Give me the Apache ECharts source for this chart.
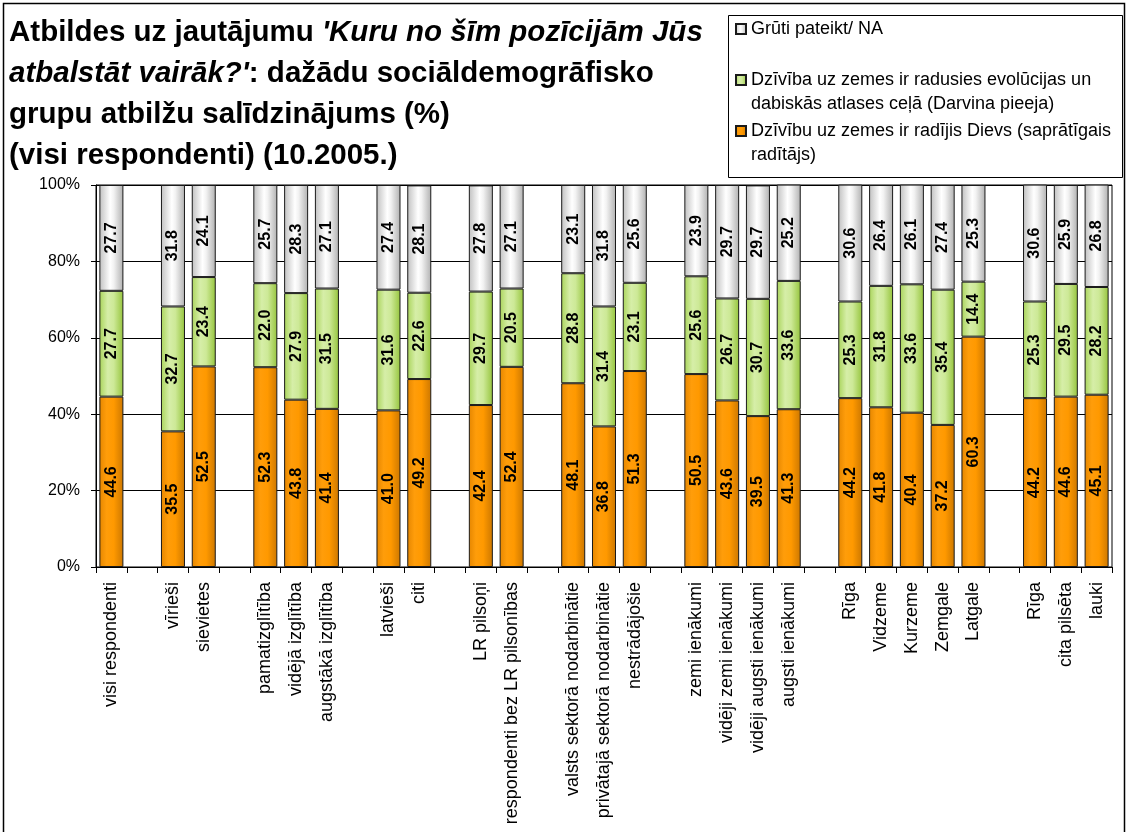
<!DOCTYPE html>
<html>
<head>
<meta charset="utf-8">
<script src="https://cdn.jsdelivr.net/npm/echarts@6/dist/echarts.min.js"></script>
<style>
  html, body { margin: 0; padding: 0; background: #fff; }
  #chart { width: 1127px; height: 832px; }
</style>
</head>
<body>
<div id="chart"></div>
<script>
// ---- data ----
const categories = [
  'visi respondenti', '',
  'vīrieši', 'sievietes', '',
  'pamatizglītība', 'vidējā izglītība', 'augstākā izglītība', '',
  'latvieši', 'citi', '',
  'LR pilsoņi', 'respondenti bez LR pilsonības', '',
  'valsts sektorā nodarbinātie', 'privātajā sektorā nodarbinātie', 'nestrādājošie', '',
  'zemi ienākumi', 'vidēji zemi ienākumi', 'vidēji augsti ienākumi', 'augsti ienākumi', '',
  'Rīga', 'Vidzeme', 'Kurzeme', 'Zemgale', 'Latgale', '',
  'Rīga', 'cita pilsēta', 'lauki'
];
const godValues = [
  44.6, null,
  35.5, 52.5, null,
  52.3, 43.8, 41.4, null,
  41.0, 49.2, null,
  42.4, 52.4, null,
  48.1, 36.8, 51.3, null,
  50.5, 43.6, 39.5, 41.3, null,
  44.2, 41.8, 40.4, 37.2, 60.3, null,
  44.2, 44.6, 45.1
];
const darwinValues = [
  27.7, null,
  32.7, 23.4, null,
  22.0, 27.9, 31.5, null,
  31.6, 22.6, null,
  29.7, 20.5, null,
  28.8, 31.4, 23.1, null,
  25.6, 26.7, 30.7, 33.6, null,
  25.3, 31.8, 33.6, 35.4, 14.4, null,
  25.3, 29.5, 28.2
];
const naValues = [
  27.7, null,
  31.8, 24.1, null,
  25.7, 28.3, 27.1, null,
  27.4, 28.1, null,
  27.8, 27.1, null,
  23.1, 31.8, 25.6, null,
  23.9, 29.7, 29.7, 25.2, null,
  30.6, 26.4, 26.1, 27.4, 25.3, null,
  30.6, 25.9, 26.8
];
const yTicks = [0, 20, 40, 60, 80, 100];
const seriesNames = {
  na: 'Grūti pateikt/ NA',
  darwin: 'Dzīvība uz zemes ir radusies evolūcijas un dabiskās atlases ceļā (Darvina pieeja)',
  god: 'Dzīvību uz zemes ir radījis Dievs (saprātīgais radītājs)'
};
const legendLines = {};
legendLines[seriesNames.na] = ['Grūti pateikt/ NA', ''];
legendLines[seriesNames.darwin] = ['Dzīvība uz zemes ir radusies evolūcijas un', 'dabiskās atlases ceļā (Darvina pieeja)'];
legendLines[seriesNames.god] = ['Dzīvību uz zemes ir radījis Dievs (saprātīgais', 'radītājs)'];

// ---- styling ----
const FONT = '"Liberation Sans", Arial, sans-serif';
function grad(stops) {
  return new echarts.graphic.LinearGradient(0, 0, 1, 0, stops.map(s => ({offset: s[0], color: s[1]})));
}
const orangeFill = grad([[0, '#E58600'], [0.3, '#FF9D0A'], [0.6, '#FF9900'], [1, '#CC7700']]);
const greenFill = grad([[0, '#A9D45A'], [0.35, '#D6EEA8'], [0.6, '#CDE997'], [1, '#95C43C']]);
const grayFill = grad([[0, '#C0C0C0'], [0.45, '#FFFFFF'], [0.6, '#F2F2F2'], [1, '#B0B0B0']]);

const labelCfg = {
  show: true,
  position: 'inside',
  rotate: 90,
  color: '#000',
  fontFamily: FONT,
  fontWeight: 'bold',
  fontSize: 16,
  formatter: p => (p.value == null ? '' : Number(p.value).toFixed(1))
};

function mkSeries(name, data, fill) {
  return {
    name: name,
    type: 'bar',
    stack: 'total',
    data: data,
    barCategoryGap: '22%',
    itemStyle: { color: fill, borderColor: '#1a1a1a', borderWidth: 1 },
    label: labelCfg,
    emphasis: { disabled: true },
    animation: false
  };
}

const chart = echarts.init(document.getElementById('chart'), null, { renderer: 'canvas' });
chart.setOption({
  animation: false,
  backgroundColor: '#fff',
  title: {
    left: 9,
    top: 12,
    padding: 0,
    text: '{b|Atbildes uz jautājumu }{bi|\'Kuru no šīm pozīcijām Jūs}\n' +
          '{bi|atbalstāt vairāk?\'}{b|: dažādu sociāldemogrāfisko}\n' +
          '{b|grupu atbilžu salīdzinājums (%)}\n' +
          '{b|(visi respondenti) (10.2005.)}',
    textStyle: {
      rich: {
        b: { fontFamily: FONT, fontWeight: 'bold', fontSize: 29.5, lineHeight: 41, color: '#000' },
        bi: { fontFamily: FONT, fontWeight: 'bold', fontStyle: 'italic', fontSize: 29.5, lineHeight: 41, color: '#000' }
      }
    }
  },
  graphic: [
    { type: 'rect', silent: true, z: -10,
      shape: { x: 3.5, y: 3.5, width: 1121, height: 900 },
      style: { fill: 'none', stroke: '#000', lineWidth: 1.5 } },
    { type: 'rect', silent: true, z: -10,
      shape: { x: 728.5, y: 15.5, width: 394, height: 162 },
      style: { fill: '#fff', stroke: '#000', lineWidth: 1 } }
  ],
  legend: {
    orient: 'vertical',
    left: 735,
    top: -7,
    padding: 0,
    itemGap: -21,
    itemWidth: 10,
    itemHeight: 10,
    icon: 'rect',
    selectedMode: false,
    data: [seriesNames.na, seriesNames.darwin, seriesNames.god],
    formatter: name => '\n' + legendLines[name][0] + '\n' + legendLines[name][1],
    textStyle: { fontFamily: FONT, fontSize: 18, lineHeight: 24, color: '#000' }
  },
  grid: {
    left: 96, right: 15, top: 185, bottom: 265,
    show: true, borderColor: '#000', borderWidth: 1, backgroundColor: 'transparent'
  },
  xAxis: {
    type: 'category',
    data: categories,
    axisLine: { show: true, lineStyle: { color: '#000', width: 1 } },
    axisTick: { show: true, interval: 0, length: 6, lineStyle: { color: '#000' } },
    axisLabel: {
      interval: 0, rotate: 90, margin: 15,
      fontFamily: FONT, fontSize: 18, color: '#000'
    }
  },
  yAxis: {
    type: 'value',
    min: yTicks[0],
    max: yTicks[yTicks.length - 1],
    interval: yTicks[1] - yTicks[0],
    axisLine: { show: true, lineStyle: { color: '#000', width: 1 } },
    axisTick: { show: true, length: 5, lineStyle: { color: '#000' } },
    splitLine: { show: true, lineStyle: { color: '#000', width: 1 } },
    axisLabel: { formatter: '{value}%', margin: 16, fontFamily: FONT, fontSize: 16, color: '#000' }
  },
  series: [
    mkSeries(seriesNames.god, godValues, orangeFill),
    mkSeries(seriesNames.darwin, darwinValues, greenFill),
    mkSeries(seriesNames.na, naValues, grayFill)
  ]
});
</script>
</body>
</html>
